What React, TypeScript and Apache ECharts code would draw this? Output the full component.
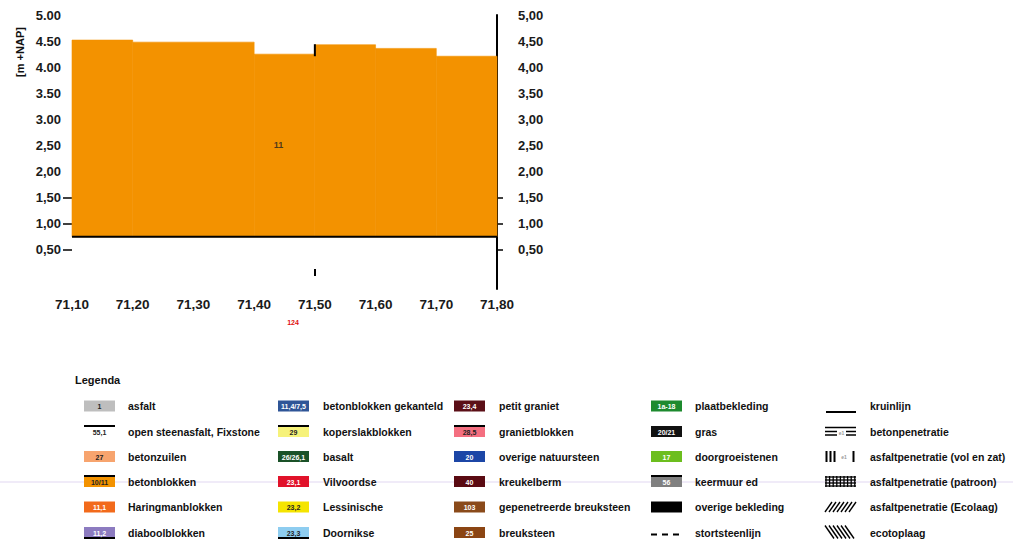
import React, { useEffect, useRef } from "react";
import * as echarts from "echarts";

// ---- data ----
const stepStarts = [71.1, 71.2, 71.4, 71.5, 71.6, 71.7];
const stepEnds = [71.2, 71.4, 71.5, 71.6, 71.7, 71.8];
const stepTops = [4.52, 4.48, 4.25, 4.43, 4.36, 4.21];
const baseLevel = 0.75;
const markerX = 71.5;
const markerY = [4.21, 4.44];
const sectionCode = "11";
const sectionCodePos = [71.44, 2.5];

const xTickValues = [71.1, 71.2, 71.3, 71.4, 71.5, 71.6, 71.7, 71.8];
const xTickLabels = ["71,10", "71,20", "71,30", "71,40", "71,50", "71,60", "71,70", "71,80"];
const yTickValues = [0.5, 1, 1.5, 2, 2.5, 3, 3.5, 4, 4.5, 5];
const yLeftLabels = ["0,50", "1,00", "1,50", "2,00", "2,50", "3.00", "3.50", "4.00", "4.50", "5.00"];
const yRightLabels = ["0,50", "1,00", "1,50", "2,00", "2,50", "3,00", "3,50", "4,00", "4,50", "5,00"];
const yTickMarks = [0.5, 1, 1.5];

const legendNames = [
  "asfalt", "open steenasfalt, Fixstone", "betonzuilen", "betonblokken", "Haringmanblokken", "diaboolblokken",
  "betonblokken gekanteld", "koperslakblokken", "basalt", "Vilvoordse", "Lessinische", "Doornikse",
  "petit graniet", "granietblokken", "overige natuursteen", "kreukelberm", "gepenetreerde breuksteen", "breuksteen",
  "plaatbekleding", "gras", "doorgroeistenen", "keermuur ed", "overige bekleding", "stortsteenlijn",
  "kruinlijn", "betonpenetratie", "asfaltpenetratie (vol en zat)", "asfaltpenetratie (patroon)", "asfaltpenetratie (Ecolaag)", "ecotoplaag",
];
const legendCodes = [
  "1", "55,1", "27", "10/11", "11,1", "11,2",
  "11,4/7,5", "29", "26/26,1", "23,1", "23,2", "23,3",
  "23,4", "28,5", "20", "40", "103", "25",
  "1a-18", "20/21", "17", "56", "", "",
  "", "", "", "", "", "",
];
const legendColors = [
  "#BEBEBE", "#FFFFFF", "#F7A46E", "#F39200", "#F26A1B", "#8C7BC0",
  "#2F5597", "#F6F27A", "#1A5128", "#E1122A", "#F5E400", "#8ECDF0",
  "#5B0F17", "#F46F80", "#1C46A6", "#5A0A12", "#8A4A1A", "#8B4513",
  "#1D8A2E", "#111111", "#6CBE1E", "#808080", "#000000", "#000000",
  "#000000", "#000000", "#000000", "#000000", "#000000", "#000000",
];
const legendKinds = [
  "fill", "fill-top", "fill", "fill-top", "fill", "fill-bottom",
  "fill", "fill-top", "fill", "fill", "fill", "fill-bottom",
  "fill", "fill-top", "fill", "fill", "fill", "fill",
  "fill", "fill", "fill", "fill-top", "fill", "dash",
  "line", "beton", "vert", "grid", "diagR", "diagL",
];
const lightCodes = ["#BEBEBE", "#FFFFFF", "#F7A46E", "#F39200", "#F6F27A", "#F5E400", "#8ECDF0", "#F46F80"];

const FONT = '"Liberation Sans", Arial, sans-serif';

function txt(x: number, y: number, text: string, size: number, fill: string, align = "left", weight = "bold", extra: any = {}) {
  return {
    type: "text",
    x,
    y,
    silent: true,
    ...extra,
    style: {
      text,
      fontSize: size,
      fontWeight: weight,
      fontFamily: FONT,
      fill,
      textAlign: align,
      align,
      textVerticalAlign: "middle",
      verticalAlign: "middle",
    },
  };
}
function ln(x1: number, y1: number, x2: number, y2: number, w = 1, dash?: number[]) {
  return {
    type: "line",
    silent: true,
    shape: { x1, y1, x2, y2 },
    style: { stroke: "#000", lineWidth: w, lineDash: dash },
  };
}

function legendGraphics() {
  const els: any[] = [];
  const colX = [84, 278, 454, 651, 825];
  const textX = [128, 323, 499, 695, 870];
  const rowY = [406, 431.5, 456.5, 481.5, 507, 532.5];
  const sw = 31;
  const sh = 11;
  els.push(txt(75, 380, "Legenda", 11, "#111"));
  legendNames.forEach((name, i) => {
    const c = Math.floor(i / 6);
    const r = i % 6;
    const x = colX[c];
    const y = rowY[r];
    const kind = legendKinds[i];
    if (kind.startsWith("fill")) {
      els.push({
        type: "rect",
        silent: true,
        shape: { x, y: y - sh / 2, width: sw, height: sh },
        style: { fill: legendColors[i] },
      });
      if (kind === "fill-top") els.push(ln(x, y - sh / 2, x + sw, y - sh / 2, 2));
      if (kind === "fill-bottom") els.push(ln(x, y + sh / 2, x + sw, y + sh / 2, 2));
      if (legendCodes[i]) {
        const dark = lightCodes.includes(legendColors[i]);
        els.push(txt(x + sw / 2, y + 0.5, legendCodes[i], 7, dark ? "#222" : "#fff", "center"));
      }
    } else if (kind === "dash") {
      els.push(ln(x, y + 2, x + sw, y + 2, 2, [6, 5]));
    } else if (kind === "line") {
      els.push(ln(x + 1, y + 6, x + sw, y + 6, 2));
    } else if (kind === "beton") {
      els.push(ln(x, y - 4, x + sw, y - 4, 1.5));
      els.push(ln(x, y, x + 12, y, 1.5));
      els.push(ln(x + 21, y, x + sw, y, 1.5));
      els.push(ln(x, y + 3.5, x + 12, y + 3.5, 1.5));
      els.push(ln(x + 21, y + 3.5, x + sw, y + 3.5, 1.5));
      els.push(txt(x + 16.5, y + 1, "e1", 5, "#999", "center"));
    } else if (kind === "vert") {
      [1.5, 5.5, 9.5, 28.5].forEach((dx) => els.push(ln(x + dx, y - 5.5, x + dx, y + 5.5, 2)));
      els.push(txt(x + 19, y, "e1", 5, "#999", "center"));
    } else if (kind === "grid") {
      [-4.5, -1.5, 1.5, 4.5].forEach((dy) => els.push(ln(x, y + dy, x + sw, y + dy, 1.3)));
      for (let dx = 1; dx <= 30; dx += 3.6) els.push(ln(x + dx, y - 5.5, x + dx, y + 5.5, 1.3));
    } else if (kind === "diagR") {
      for (let dx = 0; dx <= 24; dx += 4) els.push(ln(x + dx, y + 5, x + dx + 7, y - 5, 1.4));
    } else if (kind === "diagL") {
      for (let dx = 0; dx <= 22; dx += 4) els.push(ln(x + dx, y - 7, x + dx + 9, y + 6, 1.4));
    }
    els.push(txt(textX[c], y, name, 10.5, "#111"));
  });
  return els;
}

export default function App() {
  const ref = useRef<HTMLDivElement>(null);
  useEffect(() => {
    if (!ref.current) return;
    const chart = echarts.init(ref.current, undefined, { renderer: "svg" });
    const blocks = stepStarts.map((s, i) => [s, stepEnds[i], stepTops[i]]);
    const xFmt = (v: number) => {
      const i = xTickValues.findIndex((t) => Math.abs(t - v) < 1e-6);
      return i >= 0 ? xTickLabels[i] : "";
    };
    const yFmt = (labels: string[]) => (v: number) => {
      const i = yTickValues.findIndex((t) => Math.abs(t - v) < 1e-6);
      return i >= 0 ? labels[i] : "";
    };
    const labelStyle = { fontSize: 13, fontWeight: "bold", fontFamily: FONT, color: "#1a1a1a" };
    chart.setOption({
      animation: false,
      backgroundColor: "#ffffff",
      grid: { left: 72, right: 516, top: 15, bottom: 254, containLabel: false },
      xAxis: {
        type: "value",
        min: 71.1,
        max: 71.8,
        axisLine: { show: false },
        splitLine: { show: false },
        axisTick: { show: true, inside: true, length: 7, customValues: [markerX], lineStyle: { color: "#000", width: 2 } },
        axisLabel: { ...labelStyle, fontSize: 13.5, margin: 8, customValues: xTickValues, formatter: xFmt, showMinLabel: true, showMaxLabel: true },
      },
      yAxis: [
        {
          type: "value",
          position: "left",
          min: -0.25,
          max: 5,
          axisLine: { show: false },
          splitLine: { show: false },
          axisTick: { show: true, length: 9, customValues: yTickMarks, lineStyle: { color: "#000", width: 1.5 } },
          axisLabel: { ...labelStyle, margin: 11, customValues: yTickValues, formatter: yFmt(yLeftLabels) },
        },
        {
          type: "value",
          position: "right",
          min: -0.25,
          max: 5,
          axisLine: { show: true, lineStyle: { color: "#000", width: 2 } },
          splitLine: { show: false },
          axisTick: { show: true, length: 6, customValues: yTickMarks, lineStyle: { color: "#000", width: 1.5 } },
          axisLabel: { ...labelStyle, margin: 21, customValues: yTickValues, formatter: yFmt(yRightLabels) },
        },
      ],
      series: [
        {
          type: "custom",
          name: "betonblokken",
          xAxisIndex: 0,
          yAxisIndex: 0,
          data: blocks,
          encode: { x: [0, 1], y: 2 },
          renderItem: (params: any, api: any) => {
            const p0 = api.coord([api.value(0), api.value(2)]);
            const p1 = api.coord([api.value(1), baseLevel]);
            return {
              type: "rect",
              shape: { x: p0[0], y: p0[1], width: p1[0] - p0[0], height: p1[1] - p0[1] },
              style: { fill: "#F39200", stroke: "#F39200", lineWidth: 0.6 },
            };
          },
          z: 1,
        },
        {
          type: "line",
          name: "teen",
          data: [[stepStarts[0], baseLevel], [stepEnds[stepEnds.length - 1], baseLevel]],
          symbol: "none",
          lineStyle: { color: "#000", width: 2 },
          z: 3,
        },
        {
          type: "line",
          name: "marker",
          data: [[markerX, markerY[0]], [markerX, markerY[1]]],
          symbol: "none",
          lineStyle: { color: "#000", width: 2 },
          z: 3,
        },
        {
          type: "scatter",
          name: "code",
          data: [sectionCodePos],
          symbolSize: 1,
          itemStyle: { color: "transparent" },
          label: { show: true, position: "inside", formatter: sectionCode, fontSize: 9, fontWeight: "bold", fontFamily: FONT, color: "#222" },
          z: 4,
        },
      ],
      graphic: [
        txt(20, 52, "[m +NAP]", 11, "#111", "center", "bold", { rotation: Math.PI / 2 }),
        txt(293, 322, "124", 7, "#e01010", "center"),
        {
          type: "line",
          silent: true,
          shape: { x1: 0, y1: 482, x2: 1013, y2: 482 },
          style: { stroke: "rgba(170,140,215,0.35)", lineWidth: 1 },
        },
        ...legendGraphics(),
      ],
    });
    return () => chart.dispose();
  }, []);
  return <div ref={ref} style={{ position: "fixed", left: 0, top: 0, width: 1013, height: 543, background: "#fff" }} />;
}
